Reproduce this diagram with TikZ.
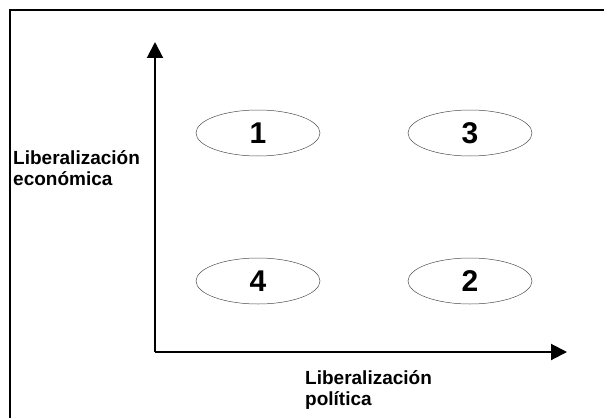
\documentclass[tikz,border=0pt]{standalone}
\usepackage{fontspec}
\setmainfont{Liberation Sans}
\usepackage{tikz}
\usetikzlibrary{arrows.meta,shapes.geometric}

\tikzset{
    quad/.style={shape=ellipse, draw=black!70, line width=0.5pt, minimum width=124pt, minimum height=46pt, inner sep=0pt, font=\bfseries\fontsize{30}{30}\selectfont},
    axislabel/.style={align=left, anchor=north west, inner sep=0pt, font=\bfseries\fontsize{19}{21}\selectfont},
    axis/.style={line width=2pt, -{Triangle[length=16pt, width=16pt]}}
}

\begin{document}
\begin{tikzpicture}[x=1pt, y=-1pt]
            \useasboundingbox (0, 0) rectangle (604, 417);
            \draw[line width=2pt] (10, 430) -- (10, 10) -- (620, 10);

            \coordinate (O) at (155, 352);
            \coordinate (Y) at (155, 42);
            \coordinate (X) at (567, 352);
            \draw[axis] (O.center) -- (Y);
            \draw[axis] (O.center) -- (X);

            \node[quad] (Q1) at (258, 133) {1};
            \node[quad] (Q3) at (470, 133) {3};
            \node[quad] (Q4) at (258, 281) {4};
            \node[quad] (Q2) at (470, 281) {2};

            \node[axislabel] (econ) at (13, 150) {Liberalización\\económica};
            \node[axislabel] (pol) at (305, 370) {Liberalización\\política};

        \end{tikzpicture}
\end{document}
